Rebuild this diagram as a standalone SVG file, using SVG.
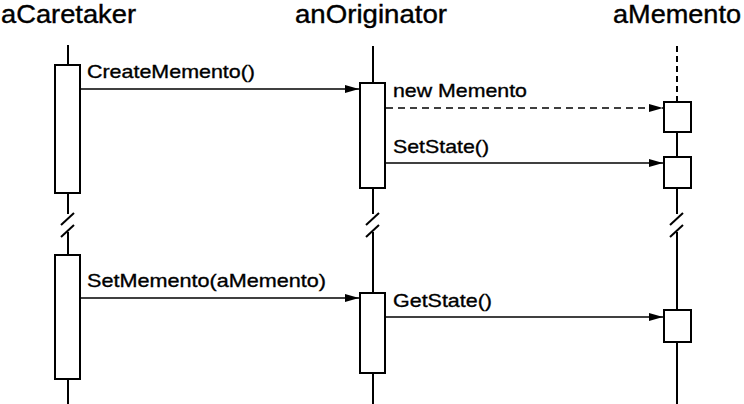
<svg xmlns="http://www.w3.org/2000/svg" width="744" height="404" viewBox="0 0 744 404">
<style>
.title{font-family:"Liberation Sans",Arial,sans-serif;font-size:26px;fill:#000;stroke:#000;stroke-width:0.4}
.lbl{font-family:"Liberation Sans",Arial,sans-serif;font-size:19px;fill:#000;stroke:#000;stroke-width:0.35}
.life{stroke:#000;stroke-width:2;fill:none}
.act{stroke:#000;stroke-width:2;fill:#fff}
.msg{stroke:#000;stroke-width:1.6;fill:none}
.dash{stroke-dasharray:7,5}
</style>
<defs>
<marker id="ah" viewBox="0 0 14 10" refX="14" refY="5" markerWidth="14" markerHeight="10" markerUnits="userSpaceOnUse" orient="auto">
<path d="M0,1 L14,5 L0,9 Z" fill="#000"/>
</marker>
</defs>
<g id="aCaretaker">
<text class="title" x="1" y="23" textLength="135" lengthAdjust="spacingAndGlyphs">aCaretaker</text>
<line class="life" x1="68" y1="45" x2="68" y2="214"/>
<line class="life" x1="68" y1="232" x2="68" y2="404"/>
<line class="life" x1="61" y1="225" x2="74" y2="213"/>
<line class="life" x1="61" y1="237" x2="74" y2="225"/>
<rect class="act" x="55" y="65" width="25" height="128"/>
<rect class="act" x="55" y="255" width="25" height="124"/>
</g>
<g id="anOriginator">
<text class="title" x="295" y="23" textLength="152" lengthAdjust="spacingAndGlyphs">anOriginator</text>
<line class="life" x1="373" y1="46" x2="373" y2="214"/>
<line class="life" x1="373" y1="232" x2="373" y2="404"/>
<line class="life" x1="366" y1="225" x2="379" y2="213"/>
<line class="life" x1="366" y1="237" x2="379" y2="225"/>
<rect class="act" x="360" y="83" width="25" height="105"/>
<rect class="act" x="360" y="293" width="25" height="80"/>
</g>
<g id="aMemento">
<text class="title" x="613" y="23" textLength="128" lengthAdjust="spacingAndGlyphs">aMemento</text>
<line class="life" x1="677" y1="46" x2="677" y2="102" stroke-dasharray="6,4"/>
<line class="life" x1="677" y1="132" x2="677" y2="157"/>
<line class="life" x1="677" y1="188" x2="677" y2="214"/>
<line class="life" x1="677" y1="232" x2="677" y2="404"/>
<line class="life" x1="670" y1="225" x2="683" y2="213"/>
<line class="life" x1="670" y1="237" x2="683" y2="225"/>
<rect class="act" x="664" y="102" width="27" height="30"/>
<rect class="act" x="664" y="157" width="27" height="31"/>
<rect class="act" x="664" y="310" width="27" height="32"/>
</g>
<g id="connectors">
<line class="msg" x1="81" y1="89" x2="359" y2="89" marker-end="url(#ah)"/>
<text class="lbl" x="87" y="78" textLength="168" lengthAdjust="spacingAndGlyphs">CreateMemento()</text>
<line class="msg dash" x1="386" y1="108" x2="663" y2="108" marker-end="url(#ah)"/>
<text class="lbl" x="393" y="97" textLength="134" lengthAdjust="spacingAndGlyphs">new Memento</text>
<line class="msg" x1="386" y1="163" x2="663" y2="163" marker-end="url(#ah)"/>
<text class="lbl" x="393" y="153" textLength="96" lengthAdjust="spacingAndGlyphs">SetState()</text>
<line class="msg" x1="81" y1="298" x2="359" y2="298" marker-end="url(#ah)"/>
<text class="lbl" x="87" y="287" textLength="239" lengthAdjust="spacingAndGlyphs">SetMemento(aMemento)</text>
<line class="msg" x1="386" y1="317" x2="663" y2="317" marker-end="url(#ah)"/>
<text class="lbl" x="393" y="307" textLength="99" lengthAdjust="spacingAndGlyphs">GetState()</text>
</g>
</svg>
